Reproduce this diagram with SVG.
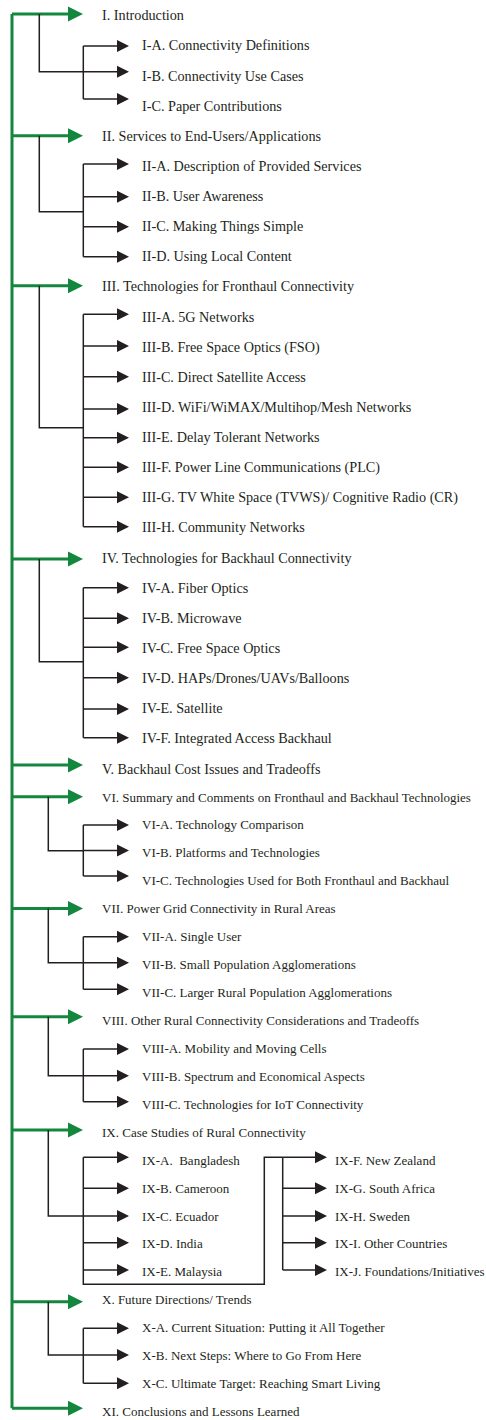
<svg xmlns="http://www.w3.org/2000/svg" width="486" height="1420" viewBox="0 0 486 1420">
<style>
text{font-family:"Liberation Serif","Times New Roman",serif;fill:#231f20}
.t{font-size:14.2px}
.b{font-size:13px}
.g{stroke:#13873d;stroke-width:3;fill:none}
.k{stroke:#231f20;stroke-width:1.5;fill:none}
.ga{marker-end:url(#ag)}
.ka{marker-end:url(#ak)}
</style>
<defs>
<marker id="ag" markerUnits="userSpaceOnUse" markerWidth="15" markerHeight="15" refX="6" refY="7.5" orient="auto" overflow="visible"><path d="M0,0 L15,7.5 L0,15 Z" fill="#13873d"/></marker>
<marker id="ak" markerUnits="userSpaceOnUse" markerWidth="12" markerHeight="12" refX="6" refY="6" orient="auto" overflow="visible"><path d="M0,0 L12,6 L0,12 Z" fill="#231f20"/></marker>
</defs>
<rect width="486" height="1420" fill="#fff"/>
<g id="connectors">
<path class="g" d="M12,14 V1408.3"/>
<path class="g ga" d="M12,14 H74"/>
<path class="g ga" d="M12,135.7 H74"/>
<path class="g ga" d="M12,285.7 H74"/>
<path class="g ga" d="M12,559 H74"/>
<path class="g ga" d="M12,765 H74"/>
<path class="g ga" d="M12,796.7 H74"/>
<path class="g ga" d="M12,908.5 H74"/>
<path class="g ga" d="M12,1016.7 H74"/>
<path class="g ga" d="M12,1130 H74"/>
<path class="g ga" d="M12,1301.7 H74"/>
<path class="g ga" d="M12,1408.3 H74"/>
<!-- I -->
<path class="k" d="M39.3,14 V71.7 H83.3"/>
<path class="k" d="M83.3,46 V99"/>
<path class="k ka" d="M83.3,46 H123"/>
<path class="k ka" d="M83.3,71.7 H123"/>
<path class="k ka" d="M83.3,99 H123"/>
<!-- II -->
<path class="k" d="M39.3,135.7 V211.7 H83.3"/>
<path class="k" d="M83.3,164 V256.7"/>
<path class="k ka" d="M83.3,164 H123"/>
<path class="k ka" d="M83.3,196.7 H123"/>
<path class="k ka" d="M83.3,226.7 H123"/>
<path class="k ka" d="M83.3,256.7 H123"/>
<!-- III -->
<path class="k" d="M39.3,285.7 V427.7 H83.3"/>
<path class="k" d="M83.3,314.3 V526.7"/>
<path class="k ka" d="M83.3,314.3 H123"/>
<path class="k ka" d="M83.3,346 H123"/>
<path class="k ka" d="M83.3,376.7 H123"/>
<path class="k ka" d="M83.3,409 H123"/>
<path class="k ka" d="M83.3,437.7 H123"/>
<path class="k ka" d="M83.3,467.3 H123"/>
<path class="k ka" d="M83.3,497.3 H123"/>
<path class="k ka" d="M83.3,526.7 H123"/>
<!-- IV -->
<path class="k" d="M39.3,559 V661.7 H83.3"/>
<path class="k" d="M83.3,587.7 V737.7"/>
<path class="k ka" d="M83.3,587.7 H123"/>
<path class="k ka" d="M83.3,618.3 H123"/>
<path class="k ka" d="M83.3,647.3 H123"/>
<path class="k ka" d="M83.3,677.7 H123"/>
<path class="k ka" d="M83.3,709 H123"/>
<path class="k ka" d="M83.3,737.7 H123"/>
<!-- VI -->
<path class="k" d="M48.3,796.7 V850.7 H83.3"/>
<path class="k" d="M83.3,825 V876"/>
<path class="k ka" d="M83.3,825 H123"/>
<path class="k ka" d="M83.3,850.5 H123"/>
<path class="k ka" d="M83.3,876 H123"/>
<!-- VII -->
<path class="k" d="M48.3,908.5 V962.7 H83.3"/>
<path class="k" d="M83.3,936.7 V989.3"/>
<path class="k ka" d="M83.3,936.7 H123"/>
<path class="k ka" d="M83.3,962.7 H123"/>
<path class="k ka" d="M83.3,989.3 H123"/>
<!-- VIII -->
<path class="k" d="M48.3,1016.7 V1075.7 H83.3"/>
<path class="k" d="M83.3,1049 V1101.7"/>
<path class="k ka" d="M83.3,1049 H123"/>
<path class="k ka" d="M83.3,1075.7 H123"/>
<path class="k ka" d="M83.3,1101.7 H123"/>
<!-- IX -->
<path class="k" d="M48.3,1130 V1216 H83.3"/>
<path class="k" d="M83.3,1157.3 V1284.3 H264.3 V1157.3 H282.7"/>
<path class="k ka" d="M83.3,1157.3 H123"/>
<path class="k ka" d="M83.3,1188.3 H123"/>
<path class="k ka" d="M83.3,1216 H123"/>
<path class="k ka" d="M83.3,1242.7 H123"/>
<path class="k ka" d="M83.3,1270 H123"/>
<path class="k" d="M282.7,1157.3 V1270"/>
<path class="k ka" d="M282.7,1157.3 H321"/>
<path class="k ka" d="M282.7,1188.3 H321"/>
<path class="k ka" d="M282.7,1216 H321"/>
<path class="k ka" d="M282.7,1242.7 H321"/>
<path class="k ka" d="M282.7,1270 H321"/>
<!-- X -->
<path class="k" d="M48.3,1301.7 V1355 H83.3"/>
<path class="k" d="M83.3,1328.3 V1383.3"/>
<path class="k ka" d="M83.3,1328.3 H123"/>
<path class="k ka" d="M83.3,1355 H123"/>
<path class="k ka" d="M83.3,1383.3 H123"/>
</g>
<g id="s1"><text class="t" x="102" y="20.2">I. Introduction</text></g>
<g id="s1a"><text class="t" x="142" y="50.3">I-A. Connectivity Definitions</text></g>
<g id="s1b"><text class="t" x="142" y="80.5">I-B. Connectivity Use Cases</text></g>
<g id="s1c"><text class="t" x="142" y="110.6">I-C. Paper Contributions</text></g>
<g id="s2"><text class="t" x="102" y="140.7">II. Services to End-Users/Applications</text></g>
<g id="s2a"><text class="t" x="142" y="170.9">II-A. Description of Provided Services</text></g>
<g id="s2b"><text class="t" x="142" y="201">II-B. User Awareness</text></g>
<g id="s2c"><text class="t" x="142" y="231.1">II-C. Making Things Simple</text></g>
<g id="s2d"><text class="t" x="142" y="261.2">II-D. Using Local Content</text></g>
<g id="s3"><text class="t" x="102" y="291.4">III. Technologies for Fronthaul Connectivity</text></g>
<g id="s3a"><text class="t" x="142" y="321.5">III-A. 5G Networks</text></g>
<g id="s3b"><text class="t" x="142" y="351.6">III-B. Free Space Optics (FSO)</text></g>
<g id="s3c"><text class="t" x="142" y="381.8">III-C. Direct Satellite Access</text></g>
<g id="s3d"><text class="t" x="142" y="411.9">III-D. WiFi/WiMAX/Multihop/Mesh Networks</text></g>
<g id="s3e"><text class="t" x="142" y="442">III-E. Delay Tolerant Networks</text></g>
<g id="s3f"><text class="t" x="142" y="472.2">III-F. Power Line Communications (PLC)</text></g>
<g id="s3g"><text class="t" x="142" y="502.3">III-G. TV White Space (TVWS)/ Cognitive Radio (CR)</text></g>
<g id="s3h"><text class="t" x="142" y="532.4">III-H. Community Networks</text></g>
<g id="s4"><text class="t" x="102" y="562.5">IV. Technologies for Backhaul Connectivity</text></g>
<g id="s4a"><text class="t" x="142" y="592.7">IV-A. Fiber Optics</text></g>
<g id="s4b"><text class="t" x="142" y="622.8">IV-B. Microwave</text></g>
<g id="s4c"><text class="t" x="142" y="652.9">IV-C. Free Space Optics</text></g>
<g id="s4d"><text class="t" x="142" y="683.1">IV-D. HAPs/Drones/UAVs/Balloons</text></g>
<g id="s4e"><text class="t" x="142" y="713.2">IV-E. Satellite</text></g>
<g id="s4f"><text class="t" x="142" y="743.3">IV-F. Integrated Access Backhaul</text></g>
<g id="s5"><text class="t" x="102" y="773.5">V. Backhaul Cost Issues and Tradeoffs</text></g>
<g id="s6"><text class="b" x="102" y="801.5">VI. Summary and Comments on Fronthaul and Backhaul Technologies</text></g>
<g id="s6a"><text class="b" x="142" y="829.4">VI-A. Technology Comparison</text></g>
<g id="s6b"><text class="b" x="142" y="857.4">VI-B. Platforms and Technologies</text></g>
<g id="s6c"><text class="b" x="142" y="885.3">VI-C. Technologies Used for Both Fronthaul and Backhaul</text></g>
<g id="s7"><text class="b" x="102" y="913.2">VII. Power Grid Connectivity in Rural Areas</text></g>
<g id="s7a"><text class="b" x="142" y="941.2">VII-A. Single User</text></g>
<g id="s7b"><text class="b" x="142" y="969.1">VII-B. Small Population Agglomerations</text></g>
<g id="s7c"><text class="b" x="142" y="997">VII-C. Larger Rural Population Agglomerations</text></g>
<g id="s8"><text class="b" x="102" y="1024.9">VIII. Other Rural Connectivity Considerations and Tradeoffs</text></g>
<g id="s8a"><text class="b" x="142" y="1052.9">VIII-A. Mobility and Moving Cells</text></g>
<g id="s8b"><text class="b" x="142" y="1080.8">VIII-B. Spectrum and Economical Aspects</text></g>
<g id="s8c"><text class="b" x="142" y="1108.7">VIII-C. Technologies for IoT Connectivity</text></g>
<g id="s9"><text class="b" x="102" y="1136.7">IX. Case Studies of Rural Connectivity</text></g>
<g id="s9a"><text class="b" x="142" y="1164.6" style="white-space:pre">IX-A.  Bangladesh</text></g>
<g id="s9b"><text class="b" x="142" y="1192.5">IX-B. Cameroon</text></g>
<g id="s9c"><text class="b" x="142" y="1220.5">IX-C. Ecuador</text></g>
<g id="s9d"><text class="b" x="142" y="1248.4">IX-D. India</text></g>
<g id="s9e"><text class="b" x="142" y="1276.3">IX-E. Malaysia</text></g>
<g id="s9f"><text class="b" x="335" y="1164.6">IX-F. New Zealand</text></g>
<g id="s9g"><text class="b" x="335" y="1192.5">IX-G. South Africa</text></g>
<g id="s9h"><text class="b" x="335" y="1220.5">IX-H. Sweden</text></g>
<g id="s9i"><text class="b" x="335" y="1248.4">IX-I. Other Countries</text></g>
<g id="s9j"><text class="b" x="335" y="1276.3">IX-J. Foundations/Initiatives</text></g>
<g id="s10"><text class="b" x="102" y="1304.2">X. Future Directions/ Trends</text></g>
<g id="s10a"><text class="b" x="142" y="1332.2">X-A. Current Situation: Putting it All Together</text></g>
<g id="s10b"><text class="b" x="142" y="1360.1">X-B. Next Steps: Where to Go From Here</text></g>
<g id="s10c"><text class="b" x="142" y="1388">X-C. Ultimate Target: Reaching Smart Living</text></g>
<g id="s11"><text class="b" x="102" y="1416">XI. Conclusions and Lessons Learned</text></g>
</svg>
